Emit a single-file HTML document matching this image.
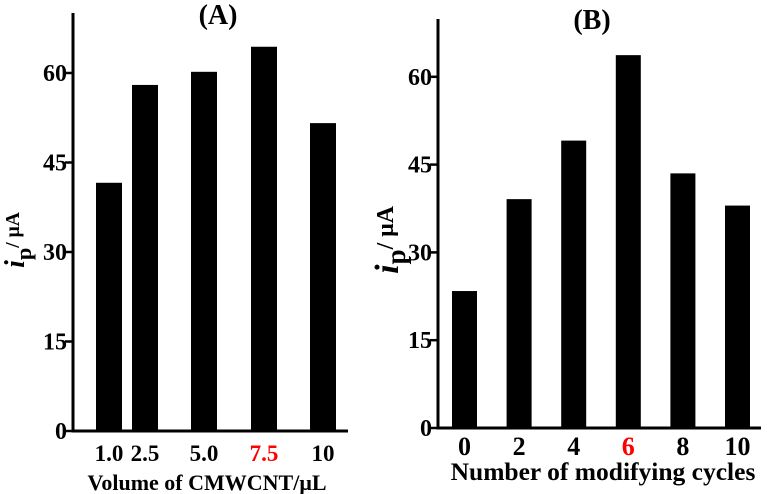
<!DOCTYPE html>
<html><head><meta charset="utf-8"><style>
html,body{margin:0;padding:0;background:#fff;}
svg{display:block;font-family:"Liberation Serif",serif;font-weight:bold;}
</style></head><body>
<svg id="chart" width="767" height="494" viewBox="0 0 767 494">
<g id="pa"></g>
<g id="pb"></g>
</svg>
<script>
const catsA = ["1.0","2.5","5.0","7.5","10"];
const valsA = [41.6, 58.0, 60.2, 64.4, 51.6];
const catsB = ["0","2","4","6","8","10"];
const valsB = [23.4, 39.1, 49.1, 63.7, 43.5, 38.0];
const yTicks = [0, 15, 30, 45, 60];
const NS = "http://www.w3.org/2000/svg";
function mk(parent, tag, attrs, text){
  const e = document.createElementNS(NS, tag);
  for (const k in attrs) e.setAttribute(k, attrs[k]);
  if (text !== undefined) e.textContent = text;
  parent.appendChild(e);
  return e;
}
function panel(g, cfg, cats, vals, highlight){
  const y = v => cfg.y0 - v / 15 * cfg.u;
  const ax = mk(g,'path',{d:`M${cfg.ax},${cfg.top} V${cfg.y0} H${cfg.xEnd}`,stroke:'#000','stroke-width':3,fill:'none'});
  
  
  yTicks.forEach(t => {
    const tk = mk(g,'line',{x1:cfg.ax-8,x2:cfg.ax,y1:y(t),y2:y(t),stroke:'#000','stroke-width':2.5});
    
    
    const tl = mk(g,'text',{x:cfg.ax-6,y:y(t)+8,'text-anchor':'end','font-size':cfg.tfs},String(t));
    
    
  });
  cats.forEach((c,i) => {
    const x = cfg.bx(i);
    const r = mk(g,'rect',{x:x,y:y(vals[i]),width:cfg.bw,height:cfg.y0-y(vals[i]),fill:'#000'});
    
    
    const t = mk(g,'text',{x:x+cfg.bw/2,y:cfg.ly,'text-anchor':'middle','font-size':cfg.lfs,fill:c===highlight?'#f00':'#000'},c);
    
    
  });
  const ti = mk(g,'text',{x:cfg.tx,y:cfg.ty,'text-anchor':'middle','font-size':28},cfg.title);
  
  
  const xt = mk(g,'text',{x:cfg.xtx,y:cfg.xty,'text-anchor':'middle','font-size':cfg.xtfs},cfg.xtitle);
  
  
  const yt = mk(g,'text',{transform:`translate(${cfg.ylx},${cfg.yly}) rotate(-90)`,'text-anchor':'middle'});
  
  
  mk(yt,'tspan',{'font-size':cfg.yfs,'font-style':'italic'},'i');
  mk(yt,'tspan',{'font-size':cfg.yfs*0.8,dy:7},'p');
  mk(yt,'tspan',{'font-size':cfg.yfs*0.7,dy:-12},'/ μA');
}
panel(document.getElementById('pa'),{ax:73,top:13,y0:431,u:89.5,xEnd:348,bw:26,tfs:24,
  bx:i=>[96,132,191,251,310][i],ly:461,lfs:23,title:'(A)',tx:218,ty:24,
  xtitle:'Volume of CMWCNT/μL',xtx:207,xty:490,xtfs:22,ylx:24,yly:240,yfs:28},catsA,valsA,'7.5');
panel(document.getElementById('pb'),{ax:438,top:19,y0:428,u:87.8,xEnd:761,bw:25,tfs:24,
  bx:i=>452+i*54.6,ly:455,lfs:26,title:'(B)',tx:592,ty:29,
  xtitle:'Number of modifying cycles',xtx:603,xty:480,xtfs:25.5,ylx:398,yly:240,yfs:34},catsB,valsB,'6');
</script>
</body></html>
